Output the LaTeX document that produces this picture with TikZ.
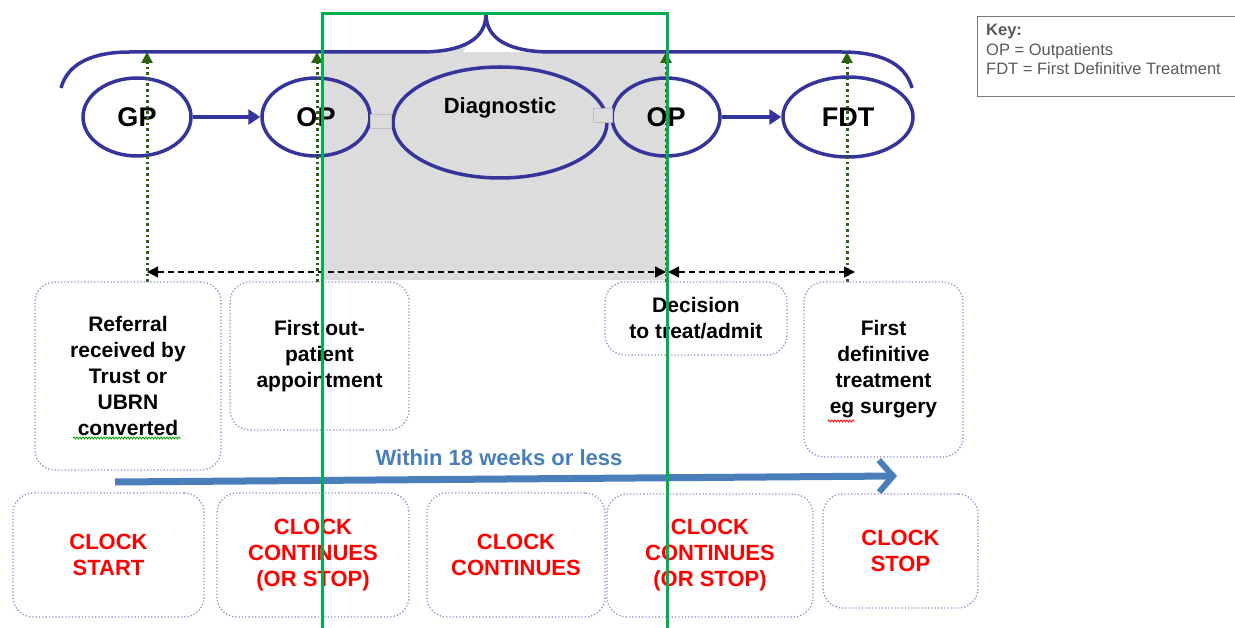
\documentclass[tikz,border=0pt]{standalone}
\usepackage{fontspec}
\setmainfont{Liberation Sans}
\usetikzlibrary{shapes.geometric,arrows.meta,decorations.pathmorphing}
\definecolor{navy}{HTML}{35349B}
\definecolor{grn}{HTML}{00B050}
\definecolor{dgrn}{HTML}{2B6410}
\definecolor{lav}{HTML}{9090D0}
\definecolor{blu}{HTML}{4A7EBB}
\definecolor{gry}{HTML}{DCDCDC}
\definecolor{keyc}{HTML}{595959}
\definecolor{clockred}{HTML}{FF0000}
\begin{document}
\begin{tikzpicture}[x=1pt,y=-1pt,
  oval/.style={ellipse,draw=navy,line width=3.5pt,inner sep=0pt,minimum width=108pt,minimum height=78pt,font=\fontsize{27}{30}\selectfont\bfseries},
  flowarrow/.style={draw=navy,line width=4pt,-{Triangle[length=12pt,width=15pt]}},
  uparrow/.style={draw=dgrn,line width=3pt,dash pattern=on 2.6pt off 3pt,-{Triangle[length=11pt,width=11pt]}},
  spanarrow/.style={draw=black,line width=1.4pt,dash pattern=on 6pt off 4pt,{Triangle[length=11pt,width=11pt]}-{Triangle[length=11pt,width=11pt]}},
  stepbox/.style={draw=lav,line width=1.3pt,dash pattern=on 1.3pt off 2pt,rounded corners=20pt,inner sep=0pt,align=center,font=\fontsize{21}{26}\selectfont\bfseries},
  clockbox/.style={stepbox,text=clockred,font=\fontsize{22}{26}\selectfont\bfseries},
  joinbox/.style={draw=black!25,fill=gry,line width=1pt,minimum width=21pt,minimum height=14pt,inner sep=0pt},
  squiggle/.style={line width=0.8pt,decorate,decoration={snake,amplitude=1pt,segment length=3pt}}
]
\useasboundingbox (0,0) rectangle (1235,628);
% grey background of the diagnostic phase
\fill[gry] (322,52) rectangle (667,280);
\fill[gry] (423,52) .. controls (448,51) and (462,48) .. (470,41) -- (463,52) -- cycle;
% ellipses
\node[oval] (gp) at (137,117) {GP};
\node[oval] (op1) at (316,117) {OP};
\node[oval,minimum width=214pt,minimum height=111pt] (diag) at (500,122.5) {};
\node[font=\fontsize{22}{24}\selectfont\bfseries] (diaglabel) at (500,108) {Diagnostic};
\node[oval] (op2) at (666,117) {OP};
\node[oval,minimum width=130pt,minimum height=80pt] (fdt) at (848,117) {FDT};
\node[joinbox] (sq1) at (381,122) {};
\node[joinbox,minimum width=19pt] (sq2) at (602.5,116) {};
\draw[flowarrow] (gp) -- (op1);
\draw[flowarrow] (op2) -- (fdt);
% brace
\draw[navy,line width=3.5pt,line join=round] (61,88) .. controls (68,62) and (95,52) .. (130,52) -- (420,52)
  .. controls (465,52) and (486,38) .. (486,14) .. controls (486,38) and (507,52) .. (552,52) -- (842,52)
  .. controls (878,52) and (905,62) .. (912,88);
% dotted green arrows
\coordinate (b1) at (147,282); \coordinate (t1) at (147,52);
\coordinate (b2) at (317,282); \coordinate (t2) at (317,52);
\coordinate (b3) at (666,282); \coordinate (t3) at (666,52);
\coordinate (b4) at (847,282); \coordinate (t4) at (847,52);
\draw[uparrow] (b1) -- (t1);
\draw[uparrow] (b2) -- (t2);
\draw[uparrow] (b3) -- (t3);
\draw[uparrow] (b4) -- (t4);
% dashed span arrows
\coordinate (s1) at (147,272); \coordinate (s2) at (666,272);
\coordinate (s3) at (668,272); \coordinate (s4) at (855,272);
\draw[spanarrow] (s1) -- (s2);
\draw[spanarrow] (s3) -- (s4);
% milestone boxes
\node[stepbox,minimum width=186pt,minimum height=188pt] (referral) at (128,376) {Referral\\received by\\Trust or\\UBRN\\converted};
\node[stepbox,minimum width=179pt,minimum height=148pt] (firstop) at (319.5,356) {First out-\\patient\\appointment};
\node[stepbox,minimum width=182pt,minimum height=73pt] (decision) at (696,318.5) {Decision\\to treat/admit};
\node[stepbox,minimum width=159pt,minimum height=175pt] (firstdef) at (883.5,369.5) {First\\definitive\\treatment\\eg surgery};
\draw[green!60!black,squiggle] (73,438) -- (181,438);
\draw[red,squiggle] (828,421) -- (855,421);
% time arrow
\coordinate (a1) at (115,482); \coordinate (a2) at (897,476);
\draw[blu,line width=7pt,-{Straight Barb[length=14pt,width=32pt,line width=6pt]}] (a1) -- (a2);
\node[text=blu,font=\fontsize{22}{24}\selectfont\bfseries] (within) at (499,458) {Within 18 weeks or less};
% clock boxes
\node[clockbox,minimum width=191pt,minimum height=124pt] (cstart) at (108.5,555) {CLOCK\\START};
\node[clockbox,minimum width=192pt,minimum height=124pt] (ccont1) at (313,555) {CLOCK\\CONTINUES\\(OR STOP)};
\node[clockbox,minimum width=178pt,minimum height=124pt] (ccont2) at (516,555) {CLOCK\\CONTINUES};
\node[clockbox,minimum width=206pt,minimum height=123pt] (ccont3) at (710,555.5) {CLOCK\\CONTINUES\\(OR STOP)};
\node[clockbox,minimum width=155pt,minimum height=114pt] (cstop) at (900.5,551) {CLOCK\\STOP};
% key
\draw[keyc!80,line width=1pt] (977,17) rectangle (1245,97);
\node[anchor=north west,inner sep=0pt,text=keyc,align=left,font=\fontsize{16.5}{19.5}\selectfont] (keytext) at (986,24) {\textbf{Key:}\\OP = Outpatients\\FDT = First Definitive Treatment};
% green frame
\draw[grn,line width=3pt] (322,640) -- (322,14) -- (667,14) -- (667,640);
\end{tikzpicture}
\end{document}
